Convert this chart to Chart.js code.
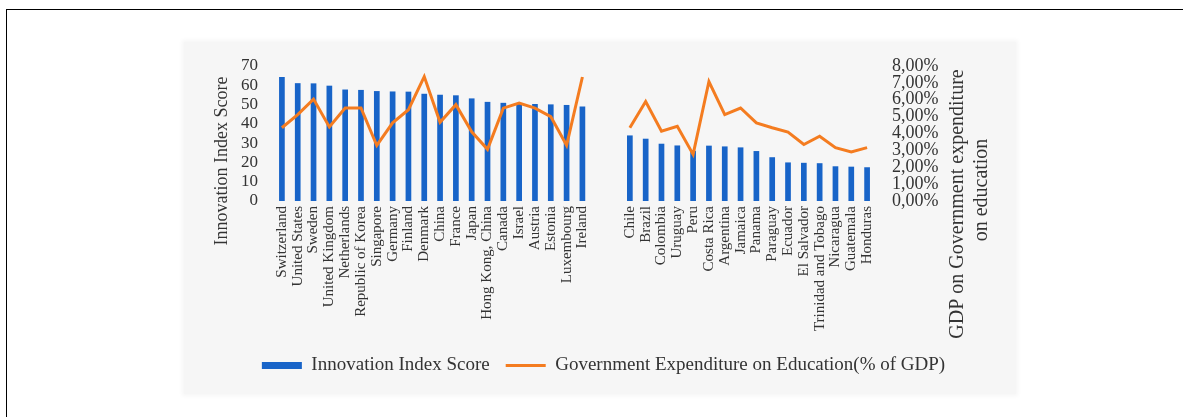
<!DOCTYPE html>
<html><head><meta charset="utf-8">
<script src="https://cdn.jsdelivr.net/npm/chart.js@4.4.1/dist/chart.umd.min.js"></script>
<style>
html,body{margin:0;padding:0;background:#fff;width:1183px;height:417px;overflow:hidden}
#frame{position:absolute;left:6px;top:9px;width:1177px;height:408px;border-top:1px solid #000;border-left:1px solid #000;}
#panel{position:absolute;left:184px;top:42px;width:832px;height:352px;background:#f6f6f6;box-shadow:0 0 4px 2px #f6f6f6;}
#wrap{position:absolute;left:0;top:0;width:1183px;height:417px}
</style></head>
<body>
<div id="frame"></div>
<div id="panel"></div>
<div id="wrap"><canvas id="c" width="1183" height="417"></canvas></div>
<script>
const categories = ['Switzerland','United States','Sweden','United Kingdom','Netherlands','Republic of Korea','Singapore','Germany','Finland','Denmark','China','France','Japan','Hong Kong, China','Canada','Israel','Austria','Estonia','Luxembourg','Ireland','','','Chile','Brazil','Colombia','Uruguay','Peru','Costa Rica','Argentina','Jamaica','Panama','Paraguay','Ecuador','El Salvador','Trinidad and Tobago','Nicaragua','Guatemala','Honduras'];
const innovationScore = [64.3,61.1,61.0,59.8,57.8,57.6,57.0,56.8,56.7,55.6,55.1,54.8,53.2,51.4,50.9,50.5,50.3,50.1,49.8,49.0,null,null,34.0,32.3,29.7,28.8,26.0,28.7,28.3,27.8,25.9,22.7,20.0,19.8,19.6,18.0,17.8,17.5];
const eduExpenditure = [4.34,5.12,6.04,4.39,5.51,5.51,3.29,4.63,5.41,7.37,4.66,5.71,4.1,3.06,5.5,5.8,5.5,5.0,3.3,7.35,null,null,4.34,5.9,4.14,4.43,2.76,7.08,5.12,5.51,4.63,4.34,4.08,3.35,3.84,3.16,2.9,3.16];
const scoreTicks = ['0','10','20','30','40','50','60','70'];
const shareTicks = ['0,00%','1,00%','2,00%','3,00%','4,00%','5,00%','6,00%','7,00%','8,00%'];
const seriesNames = ['Innovation Index Score','Government Expenditure on Education(% of GDP)'];
const leftTitle = 'Innovation Index Score';
const rightTitle = ['GDP on Government expenditure','on education'];

const FONT = 'Liberation Serif';
const TXT = '#333333';

const axisTitles = {
  id: 'axisTitles',
  afterDraw(chart) {
    const ctx = chart.ctx;
    const draw = (text, x, y, size) => {
      ctx.save();
      ctx.translate(x, y);
      ctx.rotate(-Math.PI / 2);
      ctx.font = size + 'px "' + FONT + '"';
      ctx.fillStyle = TXT;
      ctx.textAlign = 'center';
      ctx.textBaseline = 'middle';
      ctx.fillText(text, 0, 0);
      ctx.restore();
    };
    draw(leftTitle, 222, 161, 18);
    draw(rightTitle[0], 958, 204, 20);
    draw(rightTitle[1], 982, 190, 20);
  }
};

new Chart(document.getElementById('c'), {
  data: {
    labels: categories,
    datasets: [
      {
        type: 'line',
        label: seriesNames[1],
        data: eduExpenditure,
        yAxisID: 'y1',
        borderColor: '#f47c20',
        backgroundColor: '#f47c20',
        borderWidth: 3,
        pointRadius: 0,
        pointHoverRadius: 0,
        pointStyle: 'line',
        tension: 0,
        spanGaps: false,
        order: 0
      },
      {
        type: 'bar',
        label: seriesNames[0],
        data: innovationScore,
        yAxisID: 'y',
        backgroundColor: '#1864c8',
        borderWidth: 0,
        pointStyle: 'rect',
        barPercentage: 0.36,
        categoryPercentage: 1.0,
        order: 1
      }
    ]
  },
  options: {
    responsive: false,
    devicePixelRatio: 1,
    animation: false,
    layout: { padding: { left: 200, right: 176, top: 66, bottom: 32 } },
    plugins: {
      legend: {
        position: 'bottom',
        reverse: true,
        labels: {
          usePointStyle: true,
          pointStyleWidth: 40,
          boxHeight: 7,
          padding: 16,
          color: TXT,
          font: { family: FONT, size: 19 }
        }
      },
      tooltip: { enabled: false }
    },
    scales: {
      x: {
        grid: { display: false, drawTicks: false },
        border: { display: false },
        ticks: {
          autoSkip: false,
          minRotation: 90,
          maxRotation: 90,
          padding: 5,
          color: TXT,
          font: { family: FONT, size: 15 }
        },
        afterFit: (s) => { s.height = 139; }
      },
      y: {
        position: 'left',
        min: 0, max: 70,
        grid: { display: false, drawTicks: false },
        border: { display: false },
        ticks: {
          autoSkip: false,
          stepSize: 10,
          padding: 16,
          color: TXT,
          font: { family: FONT, size: 17 },
          callback: (v, i) => scoreTicks[i]
        },
        afterFit: (s) => { s.width = 74; }
      },
      y1: {
        position: 'right',
        min: 0, max: 8,
        grid: { display: false, drawTicks: false },
        border: { display: false },
        ticks: {
          autoSkip: false,
          stepSize: 1,
          padding: 17,
          color: TXT,
          font: { family: FONT, size: 18 },
          callback: (v, i) => shareTicks[i]
        },
        afterFit: (s) => { s.width = 132; }
      }
    }
  },
  plugins: [axisTitles]
});
</script>
</body></html>
